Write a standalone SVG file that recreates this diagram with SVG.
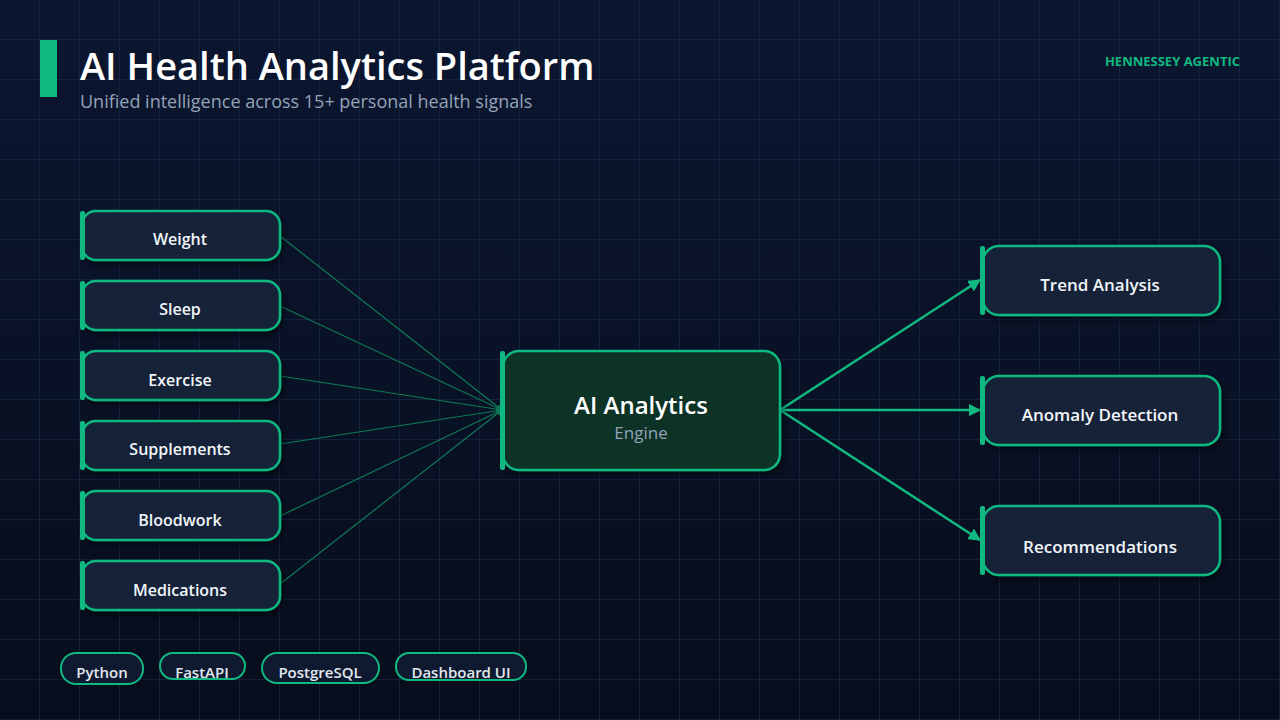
<svg xmlns="http://www.w3.org/2000/svg" width="1280" height="720" viewBox="0 0 1280 720">
<defs>
<linearGradient id="bg" x1="0" y1="0" x2="0" y2="1"><stop offset="0" stop-color="#0b1630"/><stop offset="1" stop-color="#070d1c"/></linearGradient>
<pattern id="grid" width="40" height="40" patternUnits="userSpaceOnUse"><path d="M40 0V40M0 40H40" fill="none" stroke="#1f2d4d" stroke-width="1"/></pattern>
<marker id="ah" viewBox="0 0 10 10" refX="9" refY="5" markerWidth="5" markerHeight="5" orient="auto"><path d="M0 0L10 5L0 10z" fill="#10b981"/></marker>
<marker id="ahs" viewBox="0 0 10 10" refX="9" refY="5" markerWidth="5" markerHeight="5" orient="auto"><path d="M0 0L10 5L0 10z" fill="#0e7a55"/></marker>
<filter id="sh" x="-10%" y="-10%" width="130%" height="140%"><feDropShadow dx="2" dy="4" stdDeviation="3" flood-color="#000" flood-opacity="0.5"/></filter>
<style>
text{font-family:"Open Sans","Noto Sans","DejaVu Sans",sans-serif}
.box{fill:#132038;stroke:#10b981;stroke-width:2.5;filter:url(#sh)}
.bar{fill:#10b981}
.lbl{fill:#f1f5f9;font-size:16px;font-weight:600;text-anchor:middle}
.rl{fill:#f1f5f9;font-size:17px;font-weight:600;text-anchor:middle}
.in{stroke:#0e7a55;stroke-width:1.2;fill:none;marker-end:url(#ahs)}
.out{stroke:#10b981;stroke-width:2.5;fill:none;marker-end:url(#ah)}
.pill{fill:#0f1a30;stroke:#10b981;stroke-width:2}
.pt{fill:#e2e8f0;font-size:15px;font-weight:600;text-anchor:middle}
</style>
</defs>
<rect width="1280" height="720" fill="url(#bg)"/>
<rect width="1280" height="720" fill="url(#grid)"/>
<rect x="40" y="40" width="17" height="57" class="bar"/>
<text x="80" y="80" font-size="38" font-weight="600" fill="#ffffff">AI Health Analytics Platform</text>
<text x="80" y="108" font-size="18" fill="#94a3b8">Unified intelligence across 15+ personal health signals</text>
<text x="1240" y="66" font-size="13" font-weight="700" fill="#10b981" text-anchor="end">HENNESSEY AGENTIC</text>
<g id="connectors">
<path class="in" d="M280 236L502 410"/>
<path class="in" d="M280 306L502 410"/>
<path class="in" d="M280 376L502 410"/>
<path class="in" d="M280 444L502 410"/>
<path class="in" d="M280 516L502 410"/>
<path class="in" d="M280 584L502 410"/>
<path class="out" d="M780 410L980 280"/>
<path class="out" d="M780 410L980 410"/>
<path class="out" d="M780 410L980 540"/>
</g>
<g id="n-weight"><rect class="box" x="82" y="211" width="198" height="49" rx="14"/><rect class="bar" x="80" y="211" width="5" height="49" rx="2"/><text class="lbl" x="180" y="245">Weight</text></g>
<g id="n-sleep"><rect class="box" x="82" y="281" width="198" height="49" rx="14"/><rect class="bar" x="80" y="281" width="5" height="49" rx="2"/><text class="lbl" x="180" y="315">Sleep</text></g>
<g id="n-exercise"><rect class="box" x="82" y="351" width="198" height="49" rx="14"/><rect class="bar" x="80" y="351" width="5" height="49" rx="2"/><text class="lbl" x="180" y="386">Exercise</text></g>
<g id="n-supplements"><rect class="box" x="82" y="421" width="198" height="49" rx="14"/><rect class="bar" x="80" y="421" width="5" height="49" rx="2"/><text class="lbl" x="180" y="455">Supplements</text></g>
<g id="n-bloodwork"><rect class="box" x="82" y="491" width="198" height="49" rx="14"/><rect class="bar" x="80" y="491" width="5" height="49" rx="2"/><text class="lbl" x="180" y="526">Bloodwork</text></g>
<g id="n-medications"><rect class="box" x="82" y="561" width="198" height="49" rx="14"/><rect class="bar" x="80" y="561" width="5" height="49" rx="2"/><text class="lbl" x="180" y="596">Medications</text></g>
<g id="n-engine"><rect class="box" x="503" y="351" width="277" height="119" rx="16" style="fill:#0a3328"/><rect class="bar" x="500" y="351" width="5" height="119" rx="2"/><text x="641" y="414" font-size="24" font-weight="600" fill="#ffffff" text-anchor="middle">AI Analytics</text><text x="641" y="439" font-size="17" fill="#94a3b8" text-anchor="middle">Engine</text></g>
<g id="n-trend"><rect class="box" x="983" y="246" width="237" height="69" rx="16"/><rect class="bar" x="980" y="246" width="5" height="69" rx="2"/><text class="rl" x="1100" y="291">Trend Analysis</text></g>
<g id="n-anomaly"><rect class="box" x="983" y="376" width="237" height="69" rx="16"/><rect class="bar" x="980" y="376" width="5" height="69" rx="2"/><text class="rl" x="1100" y="421">Anomaly Detection</text></g>
<g id="n-reco"><rect class="box" x="983" y="506" width="237" height="69" rx="16"/><rect class="bar" x="980" y="506" width="5" height="69" rx="2"/><text class="rl" x="1100" y="553">Recommendations</text></g>
<g id="p-python"><rect class="pill" x="61" y="653" width="82" height="31" rx="15"/><text class="pt" x="102" y="678">Python</text></g>
<g id="p-fastapi"><rect class="pill" x="160" y="653" width="85" height="26" rx="13"/><text class="pt" x="202" y="678">FastAPI</text></g>
<g id="p-postgres"><rect class="pill" x="262" y="653" width="117" height="30" rx="15"/><text class="pt" x="320" y="678">PostgreSQL</text></g>
<g id="p-dash"><rect class="pill" x="396" y="653" width="130" height="27" rx="13"/><text class="pt" x="461" y="678">Dashboard UI</text></g>
</svg>
